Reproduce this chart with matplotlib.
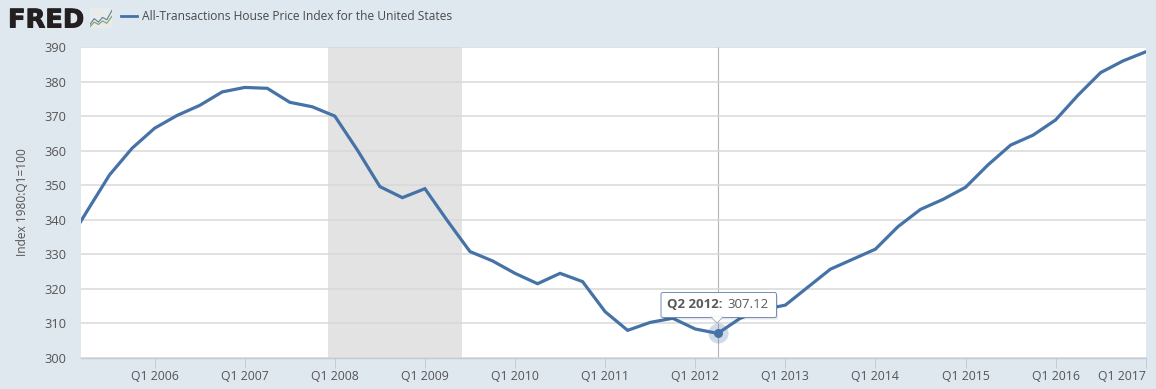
#%% Imports
import numpy as np
import matplotlib
matplotlib.use('Agg')
import matplotlib.pyplot as plt
import matplotlib.patheffects as pe
from matplotlib.patches import FancyBboxPatch, Polygon
from matplotlib.transforms import Affine2D

plt.rcParams['font.family'] = ['Open Sans', 'DejaVu Sans']

#%% Data
title = 'All-Transactions House Price Index for the United States'
y_label = 'Index 1980:Q1=100'

first_year = 2005
# quarterly values, starting Q1 2005 (the first one lies left of the axis)
index_values = [331.8, 342.5, 353.0, 360.7,
                366.5, 370.2, 373.1, 377.0,
                378.3, 378.05, 374.0, 372.7,
                370.0, 360.2, 349.6, 346.4,
                349.0, 339.7, 330.8, 328.1,
                324.5, 321.5, 324.5, 322.1,
                313.4, 308.0, 310.3, 311.5,
                308.4, 307.12, 311.5, 314.0,
                315.3, 320.5, 325.7, 328.6,
                331.5, 338.0, 343.0, 345.9,
                349.4, 355.9, 361.6, 364.5,
                368.9, 376.1, 382.6, 386.0,
                388.6]
quarters = first_year + np.arange(len(index_values)) / 4

tick_years = list(range(2006, 2018))
y_ticks = list(range(300, 400, 10))

recession_start = 2007.92
recession_end = 2009.41

hover_quarter = 2012.25
hover_value = 307.12
hover_name = 'Q2 2012:'
hover_text = '307.12'

# small decoration next to the logo
icon_x = [0, 4, 8, 12, 16, 21]
icon_dark = [3, 8, 5, 9, 7, 15]
icon_green = [1, 5, 3, 6, 4, 10]

#%% Colours and layout
W, H = 1156, 389
bg = '#dfe7ef'
line_col = '#4572a7'
grid_col = '#d8d8d8'
text_col = '#555555'

fig = plt.figure(figsize=(W / 100, H / 100), dpi=100, facecolor=bg)
ax = fig.add_axes([81 / W, 1 - 358 / H, (1146 - 81) / W, (358 - 47) / H])
ax.set_facecolor('white')

# pixel coordinates measured from the top left corner of the figure
px = Affine2D().scale(1 / W, -1 / H).translate(0, 1) + fig.transFigure

#%% Chart
ax.set_xlim(2005.183, 2017.003)
ax.set_ylim(300, 390)
ax.set_yticks(y_ticks)
ax.set_xticks(tick_years)
ax.set_xticklabels(['Q1 %d' % y for y in tick_years])
ax.get_xticklabels()[-1].set_ha('right')

ax.axvspan(recession_start, recession_end, color='#e3e3e3', linewidth=0, zorder=1)
ax.grid(axis='y', color=grid_col, linewidth=1.1, zorder=1.5)
ax.set_axisbelow(False)
ax.plot(quarters, index_values, color=line_col, linewidth=2.3, zorder=3,
        solid_joinstyle='miter')

for s in ['top', 'left', 'right']:
    ax.spines[s].set_visible(False)
ax.spines['bottom'].set_color('#c3ccd6')
ax.spines['bottom'].set_linewidth(1.0)

ax.tick_params(axis='y', length=0, pad=10.5, labelsize=9.2, labelcolor=text_col)
ax.tick_params(axis='x', length=7.2, width=0.7, color='#c3ccd6', pad=1.5,
               labelsize=8.8, labelcolor=text_col)

fig.text(23, 202.5, y_label, transform=px, rotation=90, ha='center', va='center',
         fontsize=8.6, color=text_col)

#%% Crosshair and highlighted point
ax.axvline(hover_quarter, color='#b4b4b4', linewidth=0.8, zorder=2)
ax.plot([hover_quarter], [hover_value], 'o', ms=14.5, color=line_col, alpha=0.25,
        markeredgewidth=0, zorder=4, clip_on=False)
ax.plot([hover_quarter], [hover_value], 'o', ms=6.5, color=line_col,
        markeredgewidth=0, zorder=5)

#%% Tooltip
shadow = FancyBboxPatch((663, 294.5), 115, 25, boxstyle='round,pad=0,rounding_size=2',
                        transform=px, facecolor='#000000', alpha=0.10, linewidth=0, zorder=6)
box = FancyBboxPatch((661, 292.5), 115.5, 25, boxstyle='round,pad=0,rounding_size=2',
                     transform=px, facecolor='white', edgecolor='#6f8fb8', linewidth=0.7, zorder=7)
pointer = Polygon([(711, 317), (717, 323), (723, 317)], closed=True, transform=px,
                  facecolor='white', edgecolor='#a8b4c4', linewidth=0.7, zorder=7.5)
cover = Polygon([(711.5, 316.2), (722.5, 316.2), (717, 321.6)], closed=True, transform=px,
                facecolor='white', linewidth=0, zorder=7.6)
for p in [shadow, box, pointer, cover]:
    fig.add_artist(p)
fig.text(667.3, 305, hover_name, transform=px, ha='left', va='center', fontsize=9.5,
         fontweight='bold', color='#5a5a5a', zorder=8)
fig.text(768.5, 305, hover_text, transform=px, ha='right', va='center', fontsize=9.5,
         color='#5a5a5a', zorder=8)

#%% Header: logo, icon and legend entry
logo = fig.text(8, 27.5, 'FRED', transform=px, ha='left', va='baseline', fontsize=18.5,
                fontweight='bold', family='DejaVu Sans', color='#231f20')
logo.set_path_effects([pe.withStroke(linewidth=0.7, foreground='#231f20')])

icon = fig.add_axes([90 / W, 1 - 28 / H, 22 / W, 20 / H])
icon.set_facecolor('#e8ebea')
icon.plot(icon_x, icon_dark, color='#5b7f9e', linewidth=0.8)
icon.plot(icon_x, icon_green, color='#7f9f6a', linewidth=0.8)
icon.set_xlim(0, 21)
icon.set_ylim(0, 17)
icon.set_xticks([])
icon.set_yticks([])
for s in icon.spines.values():
    s.set_visible(False)

fig.add_artist(plt.Line2D([121, 137], [16.5, 16.5], transform=px, color=line_col, linewidth=2.0))
fig.text(142, 16.5, title, transform=px, ha='left', va='center', fontsize=8.65, color='#4a4a4a')

fig.savefig('out.png', dpi=100, facecolor=bg)
